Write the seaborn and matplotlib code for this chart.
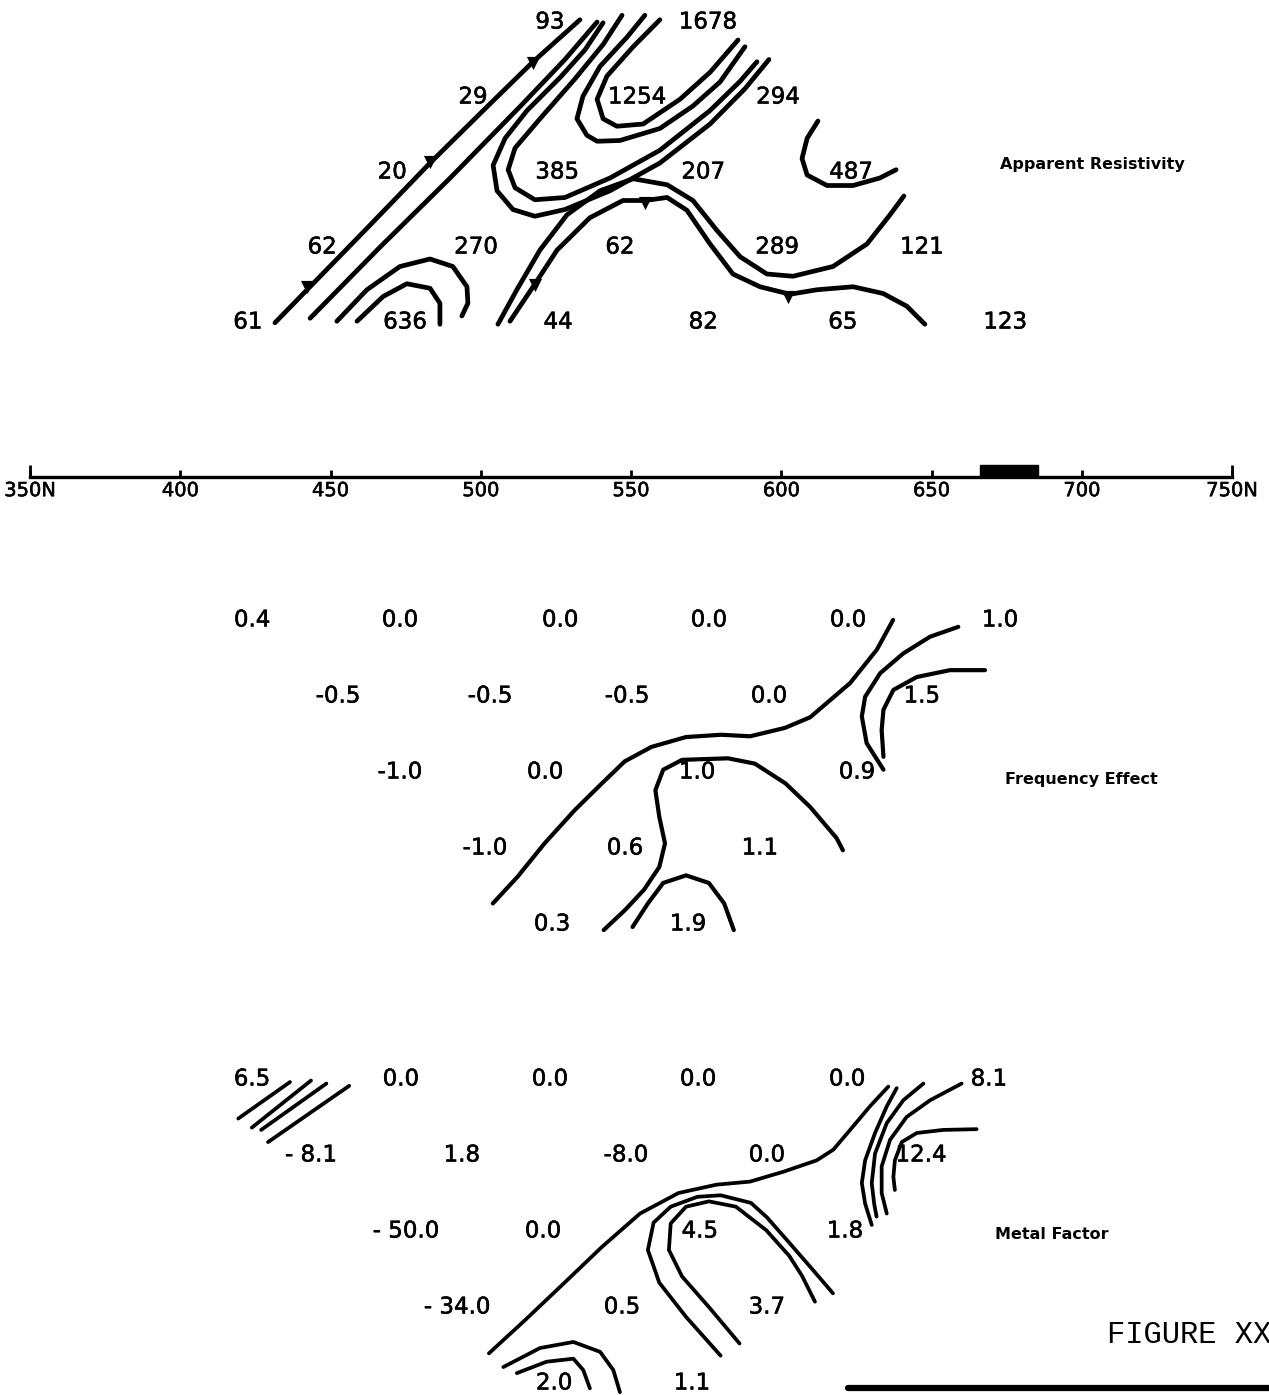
import numpy as np
import matplotlib.pyplot as plt
import matplotlib.patheffects as pe
import seaborn as sns
from matplotlib.lines import Line2D
from matplotlib.patches import Rectangle

sns.set_theme(style="white")
plt.rcParams['font.family'] = ['DejaVu Sans']

# ---------------- plotted values: station (N), level n, printed value ----------------
# apparent resistivity (plotted upwards from the station line, n=1 nearest the line)
res_station = [422.5, 474.8, 525.7, 574.0, 620.5, 674.5,
               447.2, 498.4, 546.3, 598.6, 646.8,
               470.5, 525.4, 574.0, 623.2,
               497.4, 552.0, 598.9,
               523.0, 575.6]
res_level = [1] * 6 + [2] * 5 + [3] * 4 + [4] * 3 + [5] * 2
res_text = ["61", "636", "44", "82", "65", "123",
            "62", "270", "62", "289", "121",
            "20", "385", "207", "487",
            "29", "1254", "294",
            "93", "1678"]

# frequency effect
fe_station = [423.9, 473.1, 526.4, 575.9, 622.2, 672.8,
              452.5, 503.1, 548.7, 595.9, 646.8,
              473.1, 521.4, 572.0, 625.2,
              501.4, 548.0, 592.9,
              523.7, 569.0]
fe_level = [1] * 6 + [2] * 5 + [3] * 4 + [4] * 3 + [5] * 2
fe_text = ["0.4", "0.0", "0.0", "0.0", "0.0", "1.0",
           "-0.5", "-0.5", "-0.5", "0.0", "1.5",
           "-1.0", "0.0", "1.0", "0.9",
           "-1.0", "0.6", "1.1",
           "0.3", "1.9"]

# metal factor
mf_station = [423.9, 473.4, 523.0, 572.3, 621.9, 669.1,
              443.5, 493.7, 548.3, 595.2, 646.5,
              475.1, 520.7, 572.9, 621.2,
              492.1, 547.0, 595.2,
              524.4, 570.3]
mf_level = [1] * 6 + [2] * 5 + [3] * 4 + [4] * 3 + [5] * 2
mf_text = ["6.5", "0.0", "0.0", "0.0", "0.0", "8.1",
           "- 8.1", "1.8", "-8.0", "0.0", "12.4",
           "- 50.0", "0.0", "4.5", "1.8",
           "- 34.0", "0.5", "3.7",
           "2.0", "1.1"]

# ---------------- hand drawn contours, traced as (station, level) ----------------
res_contours = [
    ([431.5, 442.2, 463.1, 483.1, 503.1, 517.4, 533.0],
     [0.99, 1.43, 2.29, 3.12, 3.91, 4.47, 5.03]),
    ([443.2, 466.5, 489.8, 513.0, 528.0, 538.7],
     [1.05, 2.00, 2.92, 3.87, 4.50, 5.00]),
    ([540.7, 534.7, 526.4, 515.4, 508.1, 504.1, 505.4, 510.7, 518.0, 528.0, 543.0, 559.6, 576.3, 587.9, 595.9],
     [4.99, 4.63, 4.26, 3.82, 3.45, 3.09, 2.75, 2.50, 2.41, 2.50, 2.75, 3.12, 3.64, 4.11, 4.50]),
    ([547.0, 540.7, 531.3, 519.7, 511.4, 509.1, 511.4, 518.0, 528.0, 543.0, 559.6, 576.3, 586.3, 591.9],
     [5.09, 4.70, 4.24, 3.71, 3.32, 3.03, 2.79, 2.63, 2.66, 2.92, 3.29, 3.82, 4.21, 4.47]),
    ([554.6, 548.7, 539.7, 534.0, 532.0, 535.3, 538.7, 546.3, 559.6, 570.6, 579.6, 587.9],
     [5.09, 4.80, 4.41, 4.01, 3.71, 3.49, 3.41, 3.42, 3.58, 3.88, 4.20, 4.67]),
    ([559.6, 550.7, 542.0, 538.7, 540.7, 545.3, 554.0, 566.3, 576.3, 585.6],
     [5.03, 4.67, 4.28, 3.97, 3.71, 3.61, 3.64, 3.97, 4.33, 4.76]),
    ([612.2, 608.6, 606.9, 608.6, 615.2, 623.9, 632.8, 638.2],
     [3.68, 3.45, 3.18, 2.96, 2.82, 2.82, 2.92, 3.03]),
    ([505.7, 512.0, 519.7, 528.7, 539.7, 550.7, 562.0, 570.6, 578.6, 586.3, 595.2, 603.9, 617.2, 628.5, 636.2, 640.8],
     [0.97, 1.43, 1.96, 2.43, 2.75, 2.91, 2.83, 2.62, 2.22, 1.87, 1.64, 1.61, 1.74, 2.04, 2.43, 2.68]),
    ([509.7, 517.4, 525.4, 536.3, 547.3, 554.6, 562.0, 568.6, 576.3, 583.9, 592.9, 602.9, 611.9, 623.9, 633.9, 641.8, 647.8],
     [1.01, 1.47, 1.96, 2.39, 2.62, 2.62, 2.66, 2.49, 2.04, 1.64, 1.47, 1.37, 1.43, 1.47, 1.38, 1.21, 0.97]),
    ([452.1, 462.1, 473.1, 483.1, 490.7, 495.4, 495.7, 493.7],
     [1.01, 1.43, 1.74, 1.84, 1.74, 1.47, 1.25, 1.08]),
    ([458.8, 467.5, 475.4, 483.1, 486.4, 486.4],
     [1.01, 1.34, 1.51, 1.45, 1.25, 0.97]),
]
res_arrow_station = [442.2, 483.1, 517.4, 518.0, 554.6, 602.2]
res_arrow_level = [1.47, 3.14, 4.46, 1.50, 2.59, 1.34]

fe_contours = [
    ([504.0, 512.2, 521.2, 531.3, 540.3, 547.9, 556.8, 568.3, 580.0, 589.6, 601.2, 609.6, 622.9, 631.8, 637.2],
     [4.73, 4.38, 3.94, 3.50, 3.15, 2.86, 2.67, 2.54, 2.51, 2.53, 2.42, 2.28, 1.83, 1.39, 1.00]),
    ([540.9, 547.9, 554.3, 559.4, 561.3, 559.4, 558.1, 560.7, 567.0, 582.3, 591.2, 601.4, 609.6, 618.4, 620.5],
     [5.08, 4.82, 4.55, 4.25, 3.94, 3.59, 3.24, 2.97, 2.84, 2.82, 2.89, 3.15, 3.46, 3.87, 4.03]),
    ([550.5, 555.6, 560.7, 568.3, 575.9, 581.0, 584.2],
     [5.04, 4.73, 4.46, 4.36, 4.46, 4.73, 5.08]),
    ([634.0, 628.4, 626.8, 627.9, 632.9, 640.6, 649.5, 658.9],
     [2.97, 2.62, 2.27, 2.01, 1.70, 1.44, 1.22, 1.09]),
    ([634.0, 633.4, 634.0, 637.3, 645.1, 656.1, 667.8],
     [2.80, 2.45, 2.18, 1.92, 1.75, 1.66, 1.66]),
]

mf_contours = [
    ([502.7, 514.8, 527.6, 540.3, 553.0, 565.8, 578.5, 589.6, 600.7, 611.8, 617.3, 622.9, 629.5, 635.6],
     [4.61, 4.17, 3.69, 3.21, 2.77, 2.50, 2.39, 2.35, 2.22, 2.07, 1.93, 1.67, 1.36, 1.10]),
    ([579.8, 568.3, 559.4, 555.6, 557.5, 563.2, 572.1, 579.8, 589.9, 595.2, 601.9, 609.6, 617.2],
     [4.64, 4.13, 3.68, 3.25, 2.89, 2.68, 2.55, 2.53, 2.63, 2.82, 3.12, 3.47, 3.82]),
    ([586.1, 575.9, 567.0, 562.6, 563.2, 568.3, 575.9, 584.9, 595.0, 602.7, 606.9, 611.2],
     [4.48, 4.00, 3.60, 3.25, 2.90, 2.68, 2.61, 2.68, 2.99, 3.33, 3.59, 3.93]),
    ([507.5, 519.7, 530.8, 539.7, 544.1, 546.3],
     [4.79, 4.54, 4.46, 4.59, 4.83, 5.12]),
    ([512.0, 521.9, 530.8, 534.1, 536.3],
     [4.87, 4.72, 4.68, 4.83, 5.07]),
    ([638.4, 635.1, 631.2, 627.9, 626.8, 627.9, 630.1],
     [1.12, 1.36, 1.71, 2.07, 2.37, 2.64, 2.92]),
    ([647.3, 640.6, 635.1, 631.2, 630.1, 630.9, 631.7],
     [1.06, 1.28, 1.58, 1.98, 2.37, 2.64, 2.81]),
    ([660.0, 649.5, 641.7, 636.2, 633.4, 633.4, 635.1],
     [1.06, 1.28, 1.50, 1.80, 2.15, 2.50, 2.77]),
    ([665.0, 653.9, 645.1, 640.1, 637.8, 637.3, 637.8],
     [1.66, 1.67, 1.71, 1.83, 2.07, 2.29, 2.46]),
    ([419.3, 436.5], [1.52, 1.04]),
    ([423.8, 443.5], [1.64, 1.02]),
    ([426.9, 448.6], [1.67, 1.06]),
    ([429.2, 456.2], [1.83, 1.09]),
]

# station line
scale_ticks = [350, 400, 450, 500, 550, 600, 650, 700, 750]
scale_labels = ["350N", "400", "450", "500", "550", "600", "650", "700", "750N"]
target_zone = (666.0, 685.5)

titles = [("res", "Apparent Resistivity", 672.8, 3.1),
          ("fe", "Frequency Effect", 674.4, 3.1),
          ("mf", "Metal Factor", 671.1, 3.05)]

# vertical layout of each pseudosection: (row of level 1, row step per level)
SECTION_Y = {"res": (322, -75), "fe": (620, 76), "mf": (1079, 76)}
LINE_ROW = 477


def ypos(sec, n):
    y0, dy = SECTION_Y[sec]
    return y0 + dy * (np.asarray(n, dtype=float) - 1)


# slightly heavier pen for the lettering
thick = [pe.withStroke(linewidth=0.4, foreground="black")]

fig = plt.figure(figsize=(12.69, 13.95), dpi=100, facecolor="white")
ax = fig.add_axes([0, 0, 1, 1])
ax.set_facecolor("white")

sections = [("res", res_station, res_level, res_text, res_contours, 3.4),
            ("fe", fe_station, fe_level, fe_text, fe_contours, 3.0),
            ("mf", mf_station, mf_level, mf_text, mf_contours, 2.7)]

for sec, st, lv, txt, contours, lw in sections:
    for xs, ns in contours:
        sns.lineplot(x=xs, y=ypos(sec, ns), sort=False, estimator=None,
                     color="black", linewidth=lw, ax=ax,
                     solid_capstyle="round", solid_joinstyle="round")
    for s, n, t in zip(st, lv, txt):
        ax.text(s, ypos(sec, n), t, ha="center", va="center",
                fontsize=16.5, color="black", path_effects=thick)

sns.scatterplot(x=res_arrow_station, y=ypos("res", res_arrow_level),
                marker="v", s=90, color="black", linewidth=0, ax=ax)

for sec, label, s, n in titles:
    ax.text(s, ypos(sec, n), label, ha="left", va="center",
            fontsize=11.5, fontweight="bold", color="black")

# station line along the bottom spine
for side in ["left", "top", "right"]:
    ax.spines[side].set_visible(False)
ax.spines["bottom"].set_position(("data", LINE_ROW))
ax.spines["bottom"].set_bounds(350, 750)
ax.spines["bottom"].set_linewidth(2.4)
ax.spines["bottom"].set_color("black")
ax.set_xticks(scale_ticks)
ax.set_xticklabels(scale_labels)
ax.set_xticks([350, 750], minor=True)
ax.xaxis.remove_overlapping_locs = False
ax.tick_params(axis="x", which="major", direction="in", length=5, width=2,
               bottom=True, colors="black", labelsize=14, pad=3)
ax.tick_params(axis="x", which="minor", direction="in", length=9, width=2,
               bottom=True, colors="black")
for lab in ax.get_xticklabels():
    lab.set_path_effects(thick)
ax.set_yticks([])
ax.add_patch(Rectangle((target_zone[0], LINE_ROW - 12), target_zone[1] - target_zone[0], 12,
                       color="black", zorder=3))

ax.set_xlim(340.0, 762.3)
ax.set_ylim(1395, 0)
ax.set_xlabel("")
ax.set_ylabel("")

fig.text(1107 / 1269, 1 - 1335 / 1395, "FIGURE XX", family="Liberation Mono",
         fontsize=22, ha="left", va="center", color="black")
fig.add_artist(Line2D([848 / 1269, 1.0], [1 - 1388 / 1395] * 2, color="black",
                      linewidth=4.5, solid_capstyle="round"))

fig.savefig("out.png", dpi=100, facecolor="white")
